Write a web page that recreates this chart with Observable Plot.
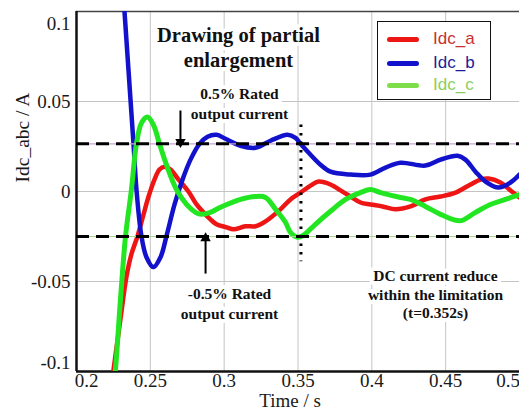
<!DOCTYPE html>
<html>
<head>
<meta charset="utf-8">
<script src="https://cdn.jsdelivr.net/npm/d3@7"></script>
<script src="https://cdn.jsdelivr.net/npm/@observablehq/plot@0.6"></script>
<style>
  html, body { margin: 0; padding: 0; background: #fff; }
  #wrap { position: relative; width: 519px; height: 416px; overflow: hidden; }
  #legend { position: absolute; left: 377px; top: 21px; width: 112px; height: 77px;
    border: 1.5px solid #111; background: #fff; font-family: "Liberation Sans", sans-serif; font-size: 17px; }
  .item { position: absolute; left: 0; height: 20px; }
  .sw { position: absolute; left: 9px; width: 32px; height: 5px; border-radius: 3px; }
  .lb { position: absolute; left: 55px; line-height: 20px; white-space: nowrap; }
</style>
</head>
<body>
<div id="wrap"></div>
<script>
// ---- data ----
const seriesNames = ["Idc_a", "Idc_b", "Idc_c"];
const seriesColors = ["#ee1515", "#1212cc", "#22e622"];
const legendSwatchColors = ["#ee1515", "#1212cc", "#7ede4a"];
const legendTextColors = ["#c83030", "#1c1c9a", "#8ccf5a"];

const redT = [0.2235,0.2251,0.2298,0.2339,0.2372,0.2413,0.2454,0.2488,0.2528,0.2562,0.2596,0.2637,0.2691,0.2758,0.2813,0.2860,0.2907,0.2948,0.3016,0.3063,0.3144,0.3212,0.3280,0.3381,0.3449,0.3517,0.3585,0.3639,0.3720,0.3788,0.3856,0.3923,0.3991,0.4072,0.4160,0.4262,0.4363,0.4465,0.4567,0.4668,0.4736,0.4790,0.4871,0.4939,0.5];
const redV = [-0.11,-0.0989,-0.0707,-0.0470,-0.0348,-0.0249,-0.0127,-0.0028,0.0066,0.0122,0.0138,0.0122,0.0066,0.0000,-0.0072,-0.0116,-0.0155,-0.0182,-0.0199,-0.0210,-0.0193,-0.0193,-0.0166,-0.0099,-0.0044,-0.0006,0.0033,0.0055,0.0039,0.0006,-0.0028,-0.0061,-0.0072,-0.0083,-0.0099,-0.0083,-0.0044,-0.0028,-0.0006,0.0039,0.0066,0.0072,0.0050,0.0006,-0.0033];

const blueT = [0.2305,0.2325,0.2386,0.2406,0.2440,0.2474,0.2521,0.2569,0.2609,0.2664,0.2718,0.2772,0.2833,0.2887,0.2948,0.3009,0.3111,0.3212,0.3314,0.3429,0.3483,0.3517,0.3585,0.3652,0.3720,0.3856,0.3991,0.4093,0.4194,0.4363,0.4465,0.4580,0.4634,0.4702,0.4770,0.4858,0.4939,0.5];
const blueV = [0.125,0.100,0.0265,0.0011,-0.0249,-0.0365,-0.0420,-0.0365,-0.0249,-0.0072,0.0066,0.0177,0.0265,0.0304,0.0315,0.0293,0.0254,0.0243,0.0282,0.0315,0.0298,0.0265,0.0204,0.0149,0.0110,0.0094,0.0094,0.0133,0.0160,0.0144,0.0177,0.0199,0.0177,0.0110,0.0055,0.0022,0.0050,0.0094];

const greenT = [0.2250,0.2264,0.2298,0.2332,0.2372,0.2406,0.2440,0.2481,0.2521,0.2562,0.2609,0.2677,0.2745,0.2806,0.2846,0.2907,0.2975,0.3111,0.3212,0.3280,0.3348,0.3415,0.3449,0.3497,0.3537,0.3618,0.3720,0.3822,0.3923,0.3991,0.4059,0.4194,0.4262,0.4363,0.4465,0.4567,0.4614,0.4702,0.4803,0.4905,0.5];
const greenV = [-0.11,-0.0989,-0.0597,-0.0249,0.0011,0.0265,0.0381,0.0414,0.0370,0.0265,0.0149,0.0011,-0.0072,-0.0116,-0.0127,-0.0116,-0.0088,-0.0044,-0.0028,-0.0033,-0.0099,-0.0171,-0.0227,-0.0254,-0.0243,-0.0182,-0.0110,-0.0044,-0.0006,0.0011,-0.0006,-0.0033,-0.0044,-0.0083,-0.0127,-0.0160,-0.0160,-0.0116,-0.0072,-0.0044,-0.0017];

const limits = [0.0265, -0.025];      // ±0.5% rated output current
const settleTime = 0.352;               // dotted marker
const settleSpan = [0.037, -0.039];
const xTicks = [0.2, 0.25, 0.3, 0.35, 0.4, 0.45, 0.5];
const yTicks = [0.1, 0.05, 0, -0.05, -0.1];
const xTickLabels = ["0.2", "0.25", "0.3", "0.35", "0.4", "0.45", "0.5"];
const yTickLabels = ["0.1", "0.05", "0", "-0.05", "-0.1"];

// annotations
const titleText = "Drawing of partial\nenlargement";
const upText = "0.5% Rated\noutput current";
const downText = "-0.5% Rated\noutput current";
const noteText = "DC current reduce\nwithin the limitation\n(t=0.352s)";
const annot = [
  {text: titleText, x: 0.3097, y: 0.0808, size: 20.5, lh: 1.22},
  {text: upText, x: 0.3104, y: 0.0494, size: 15.5, lh: 1.29},
  {text: downText, x: 0.3036, y: -0.0617, size: 15.5, lh: 1.29},
  {text: noteText, x: 0.4431, y: -0.0569, size: 15.5, lh: 1.19}
];
const arrows = [
  {x: 0.2704, y1: 0.045, y2: 0.0275, dir: 180},
  {x: 0.2874, y1: -0.0456, y2: -0.026, dir: 0}
];

// ---- build tables ----
const mk = (T, V, s) => T.map((t, i) => ({t, v: V[i], s}));
const red = mk(redT, redV, seriesNames[0]);
const blue = mk(blueT, blueV, seriesNames[1]);
const green = mk(greenT, greenV, seriesNames[2]);
const xLab = new Map(xTicks.map((d, i) => [d, xTickLabels[i]]));
const yLab = new Map(yTicks.map((d, i) => [d, yTickLabels[i]]));

const serif = "'Liberation Serif', 'Times New Roman', serif";
const tickFont = {fontSize: 19, fontFamily: serif, fill: "#1a1a1a", label: null, tickSize: 0};

const chart = Plot.plot({
  width: 519,
  height: 416,
  marginLeft: 76,
  marginRight: 0,
  marginTop: 11,
  marginBottom: 45,
  x: {domain: [0.2, 0.5]},
  y: {domain: [-0.1, 0.1]},
  style: {background: "#fff", overflow: "visible"},
  marks: [
    Plot.gridX(xTicks, {stroke: "#c4c4c4", strokeOpacity: 1, strokeWidth: 1}),
    Plot.gridY(yTicks, {stroke: "#c4c4c4", strokeOpacity: 1, strokeWidth: 1}),
    Plot.ruleY([0.1], {stroke: "#444", strokeWidth: 1.5}),
    Plot.ruleX([0.2], {stroke: "#111", strokeWidth: 2.5}),
    Plot.ruleY([-0.1], {stroke: "#111", strokeWidth: 2.5}),
    Plot.axisY(yTicks.filter(d => Math.abs(d) < 0.09), {...tickFont, tickPadding: 6, tickFormat: d => yLab.get(d)}),
    Plot.axisY([0.1], {...tickFont, tickPadding: 6, dy: 12, tickFormat: d => yLab.get(d)}),
    Plot.axisY([-0.1], {...tickFont, tickPadding: 6, dy: -9, tickFormat: d => yLab.get(d)}),
    Plot.axisX(xTicks.filter(d => d > 0.21 && d < 0.49), {...tickFont, tickPadding: 2, tickFormat: d => xLab.get(d)}),
    Plot.axisX([0.2], {...tickFont, tickPadding: 2, dx: 10, tickFormat: d => xLab.get(d)}),
    Plot.axisX([0.5], {...tickFont, tickPadding: 2, dx: -11.5, tickFormat: d => xLab.get(d)}),
    Plot.text(["Idc_abc / A"], {frameAnchor: "left", rotate: -90, dx: -54, dy: -9, fontSize: 19.5, fontFamily: serif, fill: "#1a1a1a"}),
    Plot.text(["Time / s"], {frameAnchor: "bottom", dy: 35, dx: -8, fontSize: 19, fontFamily: serif, fill: "#1a1a1a"}),
    // annotation text with white halo (hides gridlines behind it)
    ...annot.map(a => Plot.text([a], {x: "x", y: "y", text: "text", fontSize: a.size, fontWeight: "bold", fontFamily: serif, lineHeight: a.lh, fill: "#111", stroke: "white", strokeWidth: 8})),
    // curves
    Plot.line(red, {x: "t", y: "v", stroke: seriesColors[0], strokeWidth: 4.5, curve: "catmull-rom", clip: true}),
    Plot.line(blue, {x: "t", y: "v", stroke: seriesColors[1], strokeWidth: 4.5, curve: "catmull-rom", clip: true}),
    Plot.line(green, {x: "t", y: "v", stroke: seriesColors[2], strokeWidth: 5, curve: "catmull-rom", clip: true}),
    // limit lines
    Plot.ruleY([limits[0]], {stroke: "#c9a0d8", strokeWidth: 1.2}),
    Plot.ruleY([limits[1]], {stroke: "#a8d88a", strokeWidth: 1.2}),
    Plot.ruleY(limits, {stroke: "#000", strokeWidth: 3, strokeDasharray: "13,7"}),
    // settle time marker
    Plot.ruleX([settleTime], {y1: settleSpan[0], y2: settleSpan[1], stroke: "#000", strokeWidth: 3, strokeDasharray: "2.5,6"}),
    // arrows
    Plot.link(arrows, {x1: "x", x2: "x", y1: "y1", y2: "y2", stroke: "#000", strokeWidth: 2}),
    Plot.dot(arrows, {x: "x", y: "y2", symbol: "triangle2", r: 5, fill: "#000", rotate: "dir"})
  ]
});

const wrap = document.getElementById("wrap");
wrap.appendChild(chart);

// legend (inside the plot area)
const legend = document.createElement("div");
legend.id = "legend";
const ys = [7, 31, 53];
seriesNames.forEach((name, i) => {
  const item = document.createElement("div");
  item.className = "item";
  item.style.top = ys[i] + "px";
  const sw = document.createElement("div");
  sw.className = "sw";
  sw.style.top = "8px";
  sw.style.background = legendSwatchColors[i];
  const lb = document.createElement("div");
  lb.className = "lb";
  lb.style.color = legendTextColors[i];
  lb.textContent = name;
  item.appendChild(sw);
  item.appendChild(lb);
  legend.appendChild(item);
});
wrap.appendChild(legend);
</script>
</body>
</html>
